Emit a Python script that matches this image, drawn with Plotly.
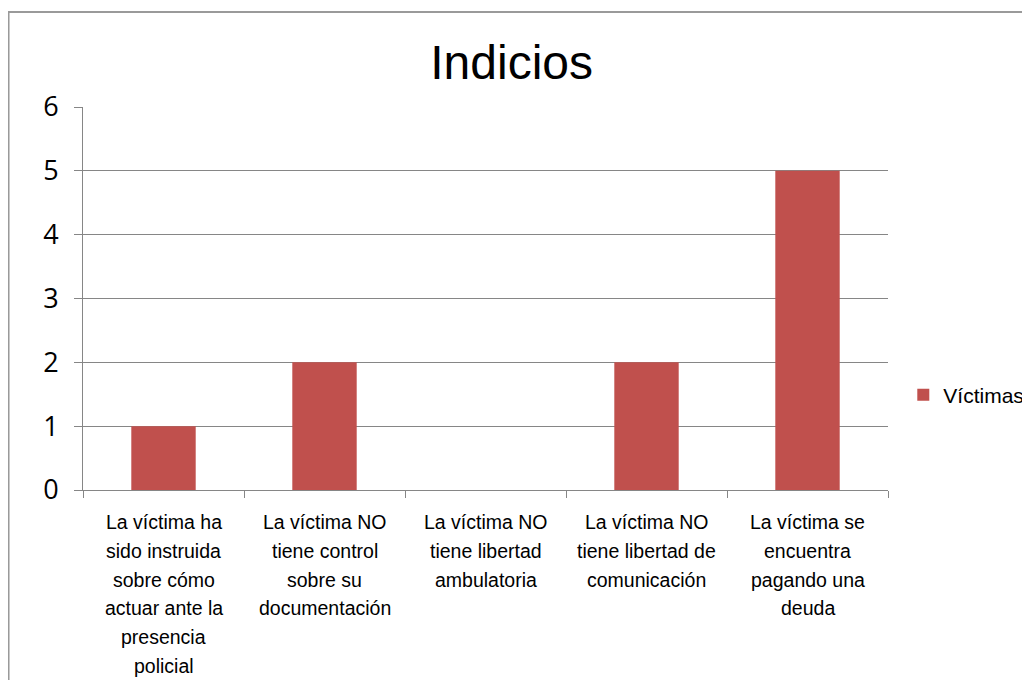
import plotly.graph_objects as go

# data
label_lines = [
    ["La víctima ha", "sido instruida", "sobre cómo", "actuar ante la", "presencia", "policial"],
    ["La víctima NO", "tiene control", "sobre su", "documentación"],
    ["La víctima NO", "tiene libertad", "ambulatoria"],
    ["La víctima NO", "tiene libertad de", "comunicación"],
    ["La víctima se", "encuentra", "pagando una", "deuda"],
]
categories = [" ".join(lines) for lines in label_lines]
victimas = [1, 2, 0, 2, 5]
y_ticks = [0, 1, 2, 3, 4, 5, 6]

bar_color = "#C0504D"
grid_color = "#868686"
sans = "Liberation Sans, Arial, sans-serif"

fig = go.Figure()
fig.add_trace(go.Bar(x=categories, y=victimas, name="Víctimas",
                     marker=dict(color=bar_color, line=dict(width=0))))

# category labels, one annotation per line so the line spacing matches
annotations = []
for cat, lines in zip(categories, label_lines):
    for i, line in enumerate(lines):
        annotations.append(dict(
            x=cat, xref="x", y=0, yref="paper",
            text=line, showarrow=False,
            xanchor="center", yanchor="middle",
            yshift=-(32 + i * 28.8),
            font=dict(family=sans, size=19.5, color="#000000"),
        ))

# the page body adds an 8px offset, so margins are shifted by 8px
fig.update_layout(
    width=1030, height=680,
    margin=dict(l=75, r=150, t=99, b=198, autoexpand=False),
    paper_bgcolor="white", plot_bgcolor="white",
    bargap=0.6,
    title=dict(text="Indicios", x=0.489, xref="container", xanchor="center",
               y=0.92, yref="container", yanchor="middle",
               font=dict(family=sans, size=48, color="#000000")),
    showlegend=True,
    legend=dict(x=1.019, y=0.248, xanchor="left", yanchor="middle",
                font=dict(family=sans, size=21, color="#000000"),
                bgcolor="rgba(0,0,0,0)"),
    annotations=annotations,
    shapes=[dict(type="rect", xref="paper", yref="paper",
                 x0=-0.0925, x1=1.3, y0=-0.8, y1=1.248,
                 line=dict(color="#9a9a9a", width=2), layer="below")],
)

fig.update_xaxes(
    showticklabels=False, showgrid=False,
    showline=True, linecolor=grid_color, linewidth=1,
    ticks="outside", tickson="boundaries", ticklen=7, tickcolor=grid_color,
)
fig.update_yaxes(
    range=[0, 6], tickvals=y_ticks,
    showgrid=True, gridcolor=grid_color, gridwidth=1,
    showline=True, linecolor=grid_color, linewidth=1,
    ticks="outside", ticklen=8, tickcolor=grid_color,
    ticklabelstandoff=10,
    tickfont=dict(family="Open Sans", size=27, color="#000000"),
    zeroline=False,
)

fig.write_html("out.html")
